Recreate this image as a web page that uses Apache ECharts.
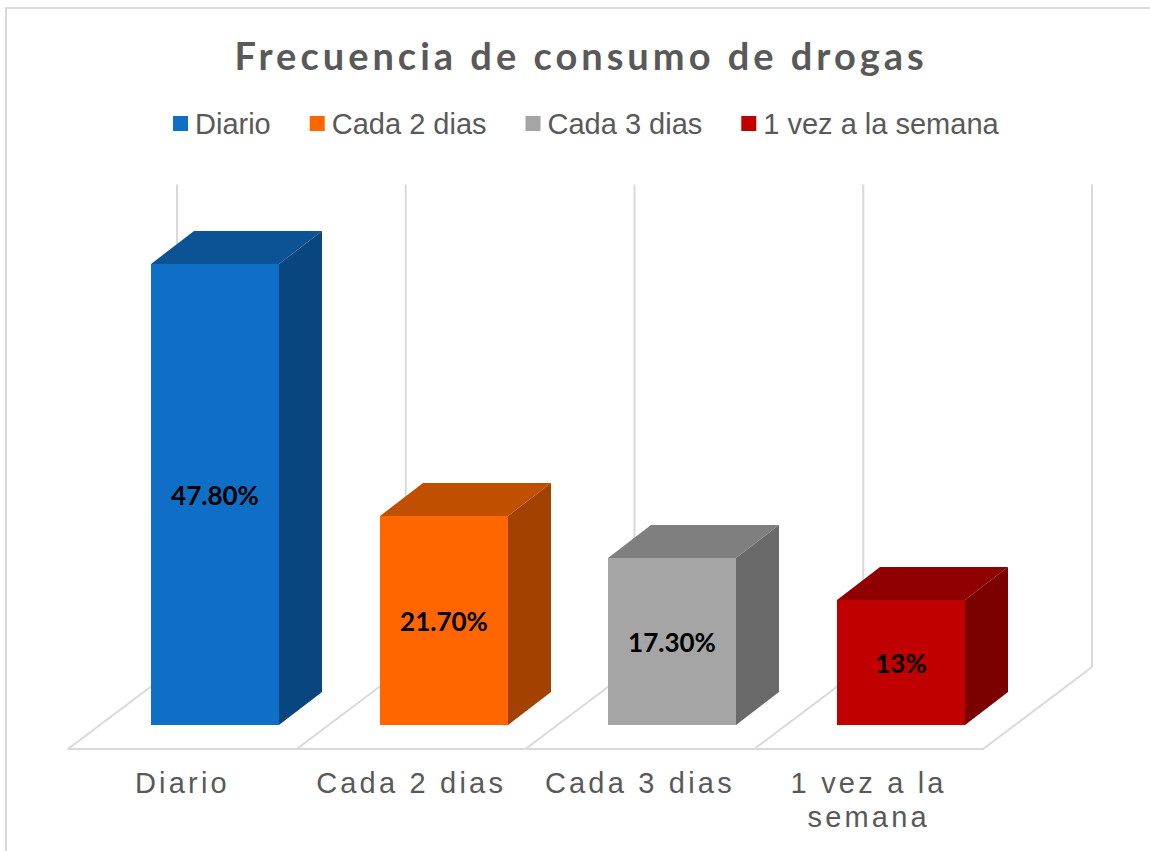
<!DOCTYPE html>
<html>
<head>
<meta charset="utf-8">
<script src="https://cdn.jsdelivr.net/npm/echarts@6/dist/echarts.min.js"></script>
<style>
  html, body { margin: 0; padding: 0; background: #fff; overflow: hidden; }
  #frame { position: absolute; left: 5px; top: 7px; width: 1200px; height: 900px; border: 2px solid #d9d9d9; }
  #chart { position: absolute; left: 0; top: 0; width: 1150px; height: 851px; }
  /* echarts has no letter spacing option, so it goes on the svg text */
  #chart text[style*="38px"] { letter-spacing: 4px; }
  #chart text[style*="Arial"] { letter-spacing: 3.2px; }
</style>
</head>
<body>
<div id="frame"></div>
<div id="chart"></div>
<script>
const categories = ['Diario', 'Cada 2 dias', 'Cada 3 dias', '1 vez a la semana']
const values = [47.8, 21.7, 17.3, 13]
const valueLabels = ['47.80%', '21.70%', '17.30%', '13%']
const frontColors = ['#0f6fc6', '#ff6600', '#a5a5a5', '#c00000']
const topColors = ['#0b5394', '#c04f00', '#7f7f7f', '#900000']
const sideColors = ['#09467f', '#a34100', '#696969', '#7b0000']

const GRID_COLOR = '#d9d9d9'
// fake 3d: bars stand this far behind the axis line, and are this deep
const BAR_SHIFT = [32.6, -24]
const BAR_DEPTH = [43, -33]
const BAR_WIDTH = 0.56
const BACK_SHIFT = [109, -82]

function renderBar(params, api) {
  const i = api.value(0)
  const w = api.size([1, 0])[0] * BAR_WIDTH
  const top = api.coord([i, api.value(1)])
  const base = api.coord([i, 0])
  // whole pixels, otherwise a white seam shows between the faces
  const x0 = Math.round(top[0] + BAR_SHIFT[0] - w / 2)
  const x1 = Math.round(x0 + w)
  const y0 = Math.round(top[1] + BAR_SHIFT[1])
  const y1 = Math.round(base[1] + BAR_SHIFT[1])
  const [dx, dy] = BAR_DEPTH
  const poly = (points, fill) => ({ type: 'polygon', shape: { points }, style: { fill } })
  return {
    type: 'group',
    children: [
      poly([[x1, y0], [x1 + dx, y0 + dy], [x1 + dx, y1 + dy], [x1, y1]], sideColors[i]),
      poly([[x0, y0], [x0 + dx, y0 + dy], [x1 + dx, y0 + dy], [x1, y0]], topColors[i]),
      poly([[x0, y0], [x1, y0], [x1, y1], [x0, y1]], frontColors[i]),
      {
        type: 'text',
        x: (x0 + x1) / 2,
        y: (y0 + y1) / 2,
        style: {
          text: valueLabels[i],
          fill: '#000',
          font: 'bold 26px Lato',
          align: 'center',
          verticalAlign: 'middle',
        },
      },
    ],
  }
}

// floor diagonals and back wall lines, one set per category boundary
function renderFloor(params, api) {
  const i = api.value(0)
  const band = api.size([1, 0])[0]
  const base = api.coord([i, 0])
  const top = api.coord([i, 50])
  const edges = [base[0] - band / 2]
  if (i === categories.length - 1) edges.push(base[0] + band / 2)
  const line = (a, b) => ({
    type: 'line',
    shape: { x1: a[0], y1: a[1], x2: b[0], y2: b[1] },
    style: { stroke: GRID_COLOR, lineWidth: 2, fill: null },
  })
  const children = []
  edges.forEach((x) => {
    const back = [x + BACK_SHIFT[0], base[1] + BACK_SHIFT[1]]
    children.push(line([x, base[1]], back))
    children.push(line(back, [back[0], top[1] + BACK_SHIFT[1]]))
  })
  return { type: 'group', children }
}

const chart = echarts.init(document.getElementById('chart'), null, { renderer: 'svg' })
chart.setOption({
  animation: false,
  backgroundColor: 'transparent',
  title: {
    text: 'Frecuencia de consumo de drogas',
    left: 229.5,
    top: 31,
    textStyle: { fontFamily: 'Lato', fontWeight: 'bold', fontSize: 38, color: '#595959' },
  },
  legend: {
    left: 168,
    top: 104,
    itemWidth: 15,
    itemHeight: 15,
    itemGap: 39,
    icon: 'rect',
    data: categories,
    textStyle: {
      fontFamily: 'Liberation Sans',
      fontSize: 29,
      color: '#595959',
      padding: [0, 0, 0, 2],
    },
  },
  grid: { left: 68, right: 167, top: 266.5, bottom: 102 },
  xAxis: {
    type: 'category',
    data: categories,
    axisTick: { show: false },
    axisLine: { lineStyle: { color: GRID_COLOR, width: 2 } },
    axisLabel: {
      interval: 0,
      margin: 17,
      fontFamily: 'Liberation Sans, Arial',
      fontSize: 29,
      lineHeight: 34,
      color: '#595959',
      formatter: (v) => v.replace('a la ', 'a la\n'),
    },
  },
  yAxis: { type: 'value', min: 0, max: 50, show: false },
  series: [
    {
      name: 'floor',
      type: 'custom',
      renderItem: renderFloor,
      clip: false,
      silent: true,
      z: 1,
      data: categories.map((c, i) => [i]),
      encode: { x: 0 },
    },
    ...categories.map((name, i) => ({
      name,
      type: 'custom',
      renderItem: renderBar,
      clip: false,
      z: 2,
      itemStyle: { color: frontColors[i] },
      data: [[i, values[i]]],
      encode: { x: 0, y: 1 },
    })),
  ],
})
</script>
</body>
</html>
